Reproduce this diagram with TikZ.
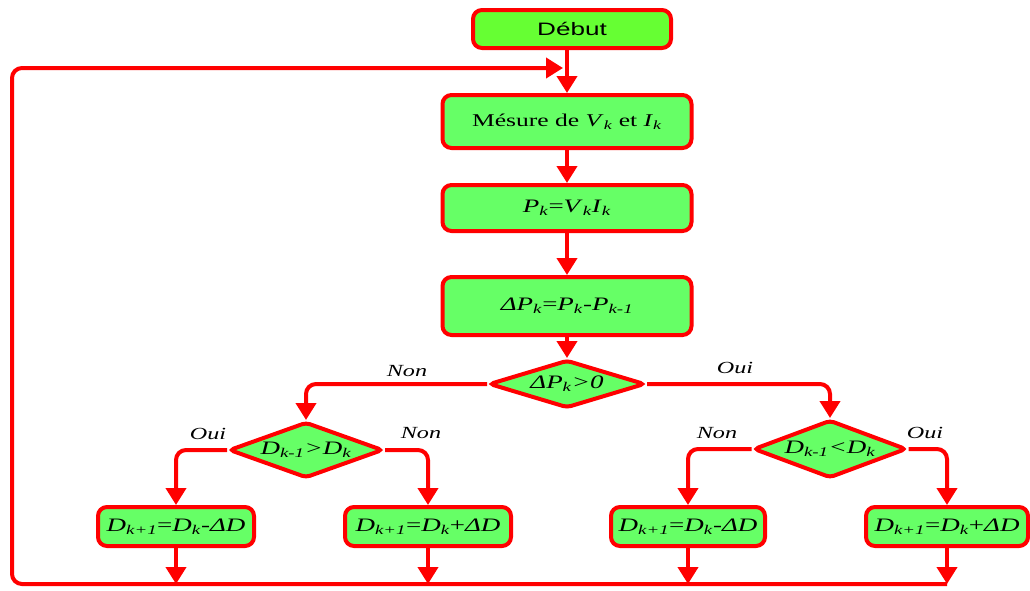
\documentclass[tikz,border=0pt]{standalone}
\usepackage{fontspec}
\setmainfont{Liberation Serif}[FakeStretch=1.42]
\newfontfamily\sansf{Liberation Sans}[FakeStretch=1.45]
\usetikzlibrary{arrows.meta,shapes.geometric}
\definecolor{gbox}{HTML}{66FF66}
\definecolor{gstart}{HTML}{66FF33}
\definecolor{rline}{HTML}{FF0000}
\newcommand{\ix}[2]{\textit{#1}\textsubscript{\textit{#2}}}
\tikzset{
  box/.style={draw=rline, fill=gbox, line width=4pt, rounded corners=9pt, inner sep=0pt, font=\fontsize{19}{21}\selectfont},
  dia/.style={draw=rline, fill=gbox, line width=4pt, diamond, aspect=3, inner sep=0pt, rounded corners=4pt, font=\fontsize{19}{21}\selectfont},
  conn/.style={draw=rline, line width=4pt, rounded corners=10pt},
  arr/.style={conn, -{Triangle[width=20pt,length=17pt]}},
  lab/.style={font=\fontsize{17}{19}\selectfont\itshape, inner sep=0pt}
}
\begin{document}
\begin{tikzpicture}[x=1pt,y=-1pt]
\useasboundingbox (0,0) rectangle (1030,590);
% main column
\node[box, fill=gstart, minimum width=198pt, minimum height=38pt, font=\sansf\fontsize{18}{20}\selectfont] (deb) at (572,29) {Début};
\node[box, minimum width=249pt, minimum height=53pt, font=\fontsize{18}{20}\selectfont] (mes) at (567,121.5) {Mésure de \ix{V}{k} et \ix{I}{k}};
\node[box, minimum width=249pt, minimum height=46pt] (pk) at (567,208) {\ix{P}{k}=\ix{V}{k}\ix{I}{k}};
\node[box, minimum width=249pt, minimum height=58pt] (dpk) at (567,306) {\textit{Δ}\ix{P}{k}=\ix{P}{k}-\ix{P}{k-1}};
% decisions
\node[dia, minimum width=156pt, minimum height=48pt] (d1) at (567,384) {\textit{Δ}\ix{P}{k}\textit{>0}};
\node[dia, minimum width=154pt, minimum height=56pt] (d2) at (306,450) {\ix{D}{k-1}\textit{>}\ix{D}{k}};
\node[dia, minimum width=153pt, minimum height=58pt] (d3) at (830,449) {\ix{D}{k-1}\textit{<}\ix{D}{k}};
% result boxes
\node[box, minimum width=156pt, minimum height=39pt] (b1) at (176,526.5) {\ix{D}{k+1}=\ix{D}{k}-\textit{ΔD}};
\node[box, minimum width=166pt, minimum height=39pt] (b2) at (428,526.5) {\ix{D}{k+1}=\ix{D}{k}+\textit{ΔD}};
\node[box, minimum width=154pt, minimum height=39pt] (b3) at (688,526.5) {\ix{D}{k+1}=\ix{D}{k}-\textit{ΔD}};
\node[box, minimum width=162pt, minimum height=39pt] (b4) at (947,526.5) {\ix{D}{k+1}=\ix{D}{k}+\textit{ΔD}};
% loop coordinates
\coordinate (bl) at (12,584);
\coordinate (tl) at (12,68);
\coordinate (br) at (947,584);
% main arrows
\draw[arr] (deb.south -| mes.north) -- (mes.north);
\draw[arr] (mes.south) -- (pk.north);
\draw[arr] (pk.south) -- (dpk.north);
\draw[arr] (dpk.south) -- (d1.north);
% branches
\draw[arr] (d1.west) -| (d2.north);
\draw[arr] (d1.east) -| (d3.north);
\draw[arr] (d2.west) -| (b1.north);
\draw[arr] (d2.east) -| (b2.north);
\draw[arr] (d3.west) -| (b3.north);
\draw[arr] (d3.east) -| (b4.north);
% down to loop line
\draw[arr, rounded corners=0pt] (b1.south) -- (b1.south |- bl);
\draw[arr, rounded corners=0pt] (b2.south) -- (b2.south |- bl);
\draw[arr, rounded corners=0pt] (b3.south) -- (b3.south |- bl);
\draw[arr, rounded corners=0pt] (b4.south) -- (b4.south |- bl);
% loop back
\draw[arr] (br) -- (bl) -- (tl) -- ([xshift=-4pt]tl -| mes.north);
% labels
\node[lab] (l1) at (407,371) {Non};
\node[lab] (l2) at (735,368) {Oui};
\node[lab] (l3) at (208,434) {Oui};
\node[lab] (l4) at (421,433) {Non};
\node[lab] (l5) at (717,433) {Non};
\node[lab] (l6) at (925,433) {Oui};
\end{tikzpicture}
\end{document}
